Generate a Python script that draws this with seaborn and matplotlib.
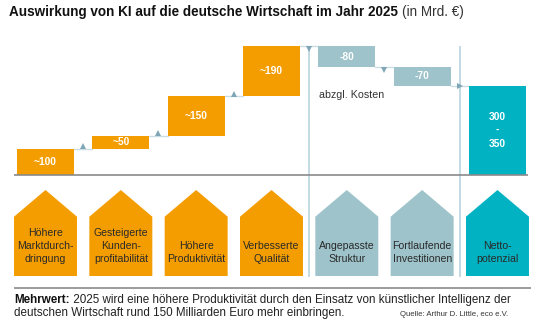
import matplotlib
matplotlib.use("Agg")
import matplotlib.pyplot as plt
from matplotlib.patches import Polygon
from matplotlib.transforms import offset_copy
import seaborn as sns
import pandas as pd

# ---------------- data ----------------
categories = ["Höhere\nMarktdurch-\ndringung", "Gesteigerte\nKunden-\nprofitabilität",
              "Höhere\nProduktivität", "Verbesserte\nQualität", "Angepasste\nStruktur",
              "Fortlaufende\nInvestitionen", "Netto-\npotenzial"]
changes = [100, 50, 150, 190, -80, -70]          # steps; last category is the net total
bar_labels = ["~100", "~50", "~150", "~190", "-80", "-70", "300\n-\n350"]
kinds = ["gain", "gain", "gain", "gain", "cost", "cost", "total"]

title_main = "Auswirkung von KI auf die deutsche Wirtschaft im Jahr 2025"
title_unit = "(in Mrd. €)"
cost_note = "abzgl. Kosten"
note_bold = "Mehrwert:"
note_line1 = " 2025 wird eine höhere Produktivität durch den Einsatz von künstlicher Intelligenz der"
note_line2 = "deutschen Wirtschaft rund 150 Milliarden Euro mehr einbringen."
source = "Quelle: Arthur D. Little, eco e.V."

kind_colors = {"gain": "#F49D00", "cost": "#9EC3CA", "total": "#00B2C2"}

sns.set_style("white")
plt.rcParams["font.family"] = ["Liberation Sans", "DejaVu Sans"]

# ---------------- waterfall geometry ----------------
bottoms, heights, levels = [], [], []
cum = 0
for v in changes:
    if v >= 0:
        bottoms.append(cum); heights.append(v); cum += v
    else:
        cum += v; bottoms.append(cum); heights.append(-v)
    levels.append(cum)
bottoms.append(0); heights.append(cum)

W, H = 540, 327
fig = plt.figure(figsize=(W / 100, H / 100), dpi=100)
PITCH, X0 = 75.33, 45.5
XL = ((0 - X0) / PITCH, (W - X0) / PITCH)
BASE, TOP, SCALE = 175, 40, 0.263
BW = 0.757


def fx(px):
    return px / W


def fy(py):
    return 1 - py / H


ax_o = fig.add_axes([0, 0, 1, 1])
ax_o.set_xlim(XL); ax_o.set_ylim(H, 0); ax_o.axis("off")

ax_b = fig.add_axes([0, fy(BASE), 1, (BASE - TOP) / H])
df = pd.DataFrame({"Kategorie": categories, "Wert": heights})
sns.barplot(data=df, x="Kategorie", y="Wert", hue="Kategorie",
            palette=[kind_colors[k] for k in kinds], order=categories,
            hue_order=categories, width=BW, saturation=1, errorbar=None,
            legend=False, linewidth=0, ax=ax_b)
bars = sorted(ax_b.patches, key=lambda p: p.get_x())
for p, b in zip(bars, bottoms):
    p.set_y(b)
    p.set_zorder(2)
ax_b.set_xlim(XL); ax_b.set_ylim(0, (BASE - TOP) / SCALE); ax_b.axis("off")

renderer = fig.canvas.get_renderer()


def width_of(s, size, weight="normal"):
    t = fig.text(0, 0, s, fontsize=size, fontweight=weight)
    w = t.get_window_extent(renderer).width
    t.remove()
    return w


# bar labels
lab_size = 10 * 23 / width_of("~150", 10, "bold")
for i, (b, h, lab) in enumerate(zip(bottoms, heights, bar_labels)):
    ax_b.text(i, b + h / 2, lab, ha="center", va="center", color="white",
              fontweight="bold", fontsize=lab_size, linespacing=1.45, zorder=4)

# connectors + triangles
for i, lvl in enumerate(levels):
    ax_b.plot([i + BW / 2, i + 1 - BW / 2], [lvl, lvl], color="#CADDE5", lw=1, zorder=1)
    nxt = kinds[i + 1]
    if nxt == "gain":
        m, dy = "^", 2.5
    elif nxt == "cost":
        m, dy = "v", -2.5
    else:
        m, dy = ">", 0
    tr = offset_copy(ax_b.transData, fig=fig, x=0, y=dy, units="dots")
    ax_b.plot(i + 0.5, lvl, marker=m, ms=4.5, color="#7FA6B6", mew=0,
              transform=tr, clip_on=False, zorder=3)

# baseline
ax_b.hlines(0, -0.42, 6.405, color="#8A8A8A", lw=1.2, clip_on=False, zorder=5)

# separators and lower rule
ax_o.vlines([3.5, 5.5], 46, 277, color="#C4DAE4", lw=1.4, zorder=0)
ax_o.hlines(288, -0.42, 6.45, color="#8A8A8A", lw=1.2)

# houses
hw = 0.418
house_size = 10 * 58 / width_of("Produktivität", 10)
for i, k in enumerate(kinds):
    ax_o.add_patch(Polygon([(i - hw, 276), (i - hw, 216.7), (i, 190),
                            (i + hw, 216.7), (i + hw, 276)], closed=True,
                           facecolor=kind_colors[k], edgecolor="none"))
    ax_o.text(i, 264.5, categories[i], ha="center", va="bottom",
              fontsize=house_size, color="#2A2A2A", linespacing=1.38)

# title
t1 = fig.text(fx(9), fy(15.7), title_main, fontsize=10, fontweight="bold",
              va="baseline", color="#111111")
t1.set_fontsize(10 * 389 / t1.get_window_extent(renderer).width)
x_end = t1.get_window_extent(renderer).x1
fig.text(fx(x_end + 4), fy(15.7), title_unit, fontsize=t1.get_fontsize(),
         va="baseline", color="#333333")

# cost note
cn = fig.text(fx(319), fy(95), cost_note, fontsize=10, va="center", color="#333333")
cn.set_fontsize(10 * 64 / cn.get_window_extent(renderer).width)

# bottom note
ns = 8.4
nb = fig.text(fx(14), fy(303), note_bold, fontsize=ns, fontweight="bold",
              va="baseline", color="#111111")
bx = nb.get_window_extent(renderer).x1
fig.text(bx / W, fy(303), note_line1, fontsize=ns, va="baseline", color="#222222")
fig.text(fx(14), fy(316), note_line2, fontsize=ns, va="baseline", color="#222222")

src = fig.text(fx(508), fy(316), source, fontsize=10, ha="right",
               va="baseline", color="#333333")
src.set_fontsize(min(10 * 160 / src.get_window_extent(renderer).width, 5.6))

fig.savefig("out.png", dpi=100)
